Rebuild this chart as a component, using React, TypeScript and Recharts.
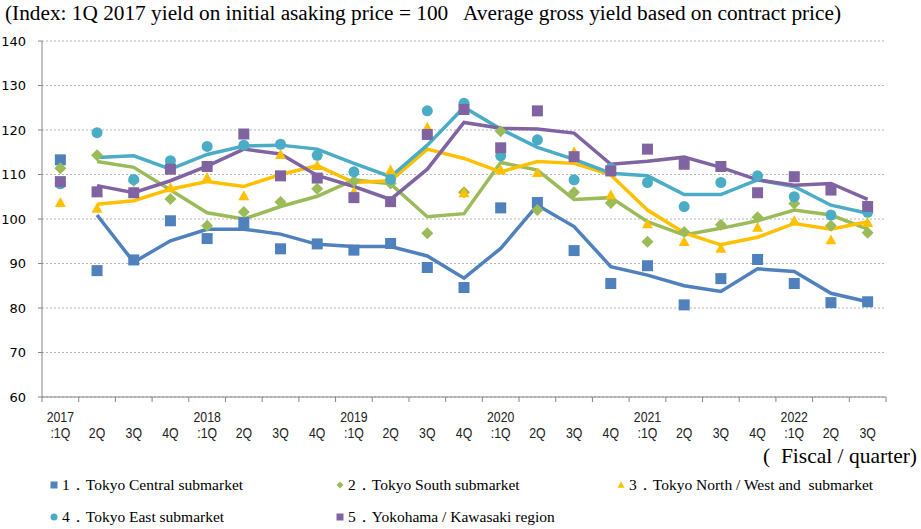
import { ComposedChart, Line, Scatter, XAxis, YAxis, CartesianGrid } from "recharts";

// tick labels, 2017 1Q .. 2022 3Q
const years = ["2017", "", "", "", "2018", "", "", "", "2019", "", "", "", "2020", "", "", "", "2021", "", "", "", "2022", "", ""];
const quarters = [":1Q", "2Q", "3Q", "4Q", ":1Q", "2Q", "3Q", "4Q", ":1Q", "2Q", "3Q", "4Q", ":1Q", "2Q", "3Q", "4Q", ":1Q", "2Q", "3Q", "4Q", ":1Q", "2Q", "3Q"];

// yield on initial asking price (markers)
const centralAsk = [113.3, 88.4, 90.8, 99.6, 95.6, 99.2, 93.3, 94.4, 93.0, 94.5, 89.1, 84.6, 102.5, 103.7, 92.9, 85.5, 89.5, 80.7, 86.6, 90.9, 85.5, 81.2, 81.4];
const southAsk = [111.4, 114.3, 108.6, 104.5, 98.5, 101.6, 103.8, 106.8, 108.5, 108.0, 96.8, 106.0, 119.7, 102.0, 106.0, 103.6, 94.9, 97.1, 98.7, 100.4, 103.5, 98.5, 96.9];
const northAsk = [103.7, 102.4, 106.0, 107.0, 109.3, 105.2, 114.5, 112.0, 106.1, 111.0, 120.6, 105.9, 111.0, 110.4, 115.1, 105.4, 98.9, 94.9, 93.4, 98.1, 99.6, 95.3, 99.2];
const eastAsk = [107.9, 119.4, 108.9, 113.1, 116.3, 116.6, 116.8, 114.3, 110.6, 108.9, 124.3, 126.0, 114.2, 117.8, 108.8, 111.4, 108.2, 102.8, 108.2, 109.7, 105.0, 100.9, 101.5];
const yokoAsk = [108.4, 106.1, 105.9, 111.2, 111.8, 119.1, 109.7, 109.2, 104.8, 103.9, 119.0, 124.6, 116.0, 124.3, 114.0, 110.8, 115.7, 112.3, 111.8, 105.9, 109.5, 106.5, 102.8];

// average gross yield based on contract price (lines)
const centralDeal = [null, 100.9, 90.3, 95.1, 97.7, 97.7, 96.6, 94.3, 93.8, 93.8, 91.7, 86.7, 93.4, 103.1, 98.3, 89.3, 87.4, 85.0, 83.7, 88.8, 88.2, 83.3, 81.4];
const southDeal = [null, 112.9, 111.6, 106.5, 101.4, 100.0, 102.8, 105.1, 108.8, 107.9, 100.5, 101.2, 112.7, 111.0, 104.4, 104.8, 99.4, 96.4, 97.9, 99.6, 102.0, 100.9, 97.7];
const northDeal = [null, 103.3, 104.1, 106.7, 108.4, 107.3, 110.0, 112.0, 108.2, 108.6, 115.7, 113.6, 110.6, 112.9, 112.5, 109.9, 102.0, 96.9, 94.2, 95.9, 99.0, 97.7, 99.4];
const eastDeal = [null, 113.8, 114.2, 111.2, 114.5, 116.4, 116.6, 115.7, 112.5, 109.5, 116.6, 125.1, 120.2, 116.1, 113.4, 110.3, 109.7, 105.5, 105.5, 108.8, 107.3, 103.1, 101.3];
const yokoDeal = [null, 107.5, 105.9, 108.6, 111.9, 115.7, 114.6, 109.8, 107.3, 104.4, 111.2, 121.7, 120.4, 120.2, 119.3, 112.3, 113.0, 113.9, 111.6, 108.8, 107.6, 108.0, 104.4];

const BLUE = "#4F81BD";
const GREEN = "#9BBB59";
const YELLOW = "#FFC000";
const CYAN = "#4BACC6";
const PURPLE = "#8064A2";
const AXIS = "#868686";
const SERIF = "'Liberation Serif', 'Times New Roman', serif";

const data = quarters.map((q, i) => ({
  x: i + 0.5,
  c1: centralAsk[i], c2: southAsk[i], c3: northAsk[i], c4: eastAsk[i], c5: yokoAsk[i],
  l1: centralDeal[i], l2: southDeal[i], l3: northDeal[i], l4: eastDeal[i], l5: yokoDeal[i],
}));

// boundary ticks (integers) draw the tick marks, half steps carry the labels
const xTicks: number[] = [];
for (let k = 0; k <= quarters.length * 2; k++) xTicks.push(k / 2);

type Kind = "square" | "diamond" | "triangle" | "circle";

function mark(kind: Kind, cx: number, cy: number, s: number, fill: string) {
  const h = s / 2;
  if (kind === "square") return <rect x={cx - h} y={cy - h} width={s} height={s} fill={fill} />;
  if (kind === "circle") return <circle cx={cx} cy={cy} r={h} fill={fill} />;
  if (kind === "diamond")
    return <polygon points={`${cx},${cy - h} ${cx + h},${cy} ${cx},${cy + h} ${cx - h},${cy}`} fill={fill} />;
  return <polygon points={`${cx},${cy - h} ${cx + h},${cy + h * 0.8} ${cx - h},${cy + h * 0.8}`} fill={fill} />;
}

const shapeOf = (kind: Kind, fill: string, s: number) => (p: any) =>
  p.cx == null || p.cy == null ? <g /> : mark(kind, p.cx, p.cy, s, fill);

const XTick = (p: any) => {
  const v = p.payload.value;
  if (Number.isInteger(v)) return <line x1={p.x} y1={p.y} x2={p.x} y2={p.y + 5} stroke={AXIS} />;
  const i = Math.floor(v);
  return (
    <g transform={`translate(${p.x},${p.y}) scale(0.82,1)`}>
      <text textAnchor="middle" y={25} fontSize={15} fontFamily="'Liberation Sans', Arial" fill="#222">
        {years[i]}
      </text>
      <text textAnchor="middle" y={41.5} fontSize={15} fontFamily="'Liberation Sans', Arial" fill="#222">
        {quarters[i]}
      </text>
    </g>
  );
};

const legend: { label: string; kind: Kind; color: string; x: number; y: number }[] = [
  { label: "1．Tokyo Central submarket", kind: "square", color: BLUE, x: 54, y: 485 },
  { label: "2．Tokyo South submarket", kind: "diamond", color: GREEN, x: 340, y: 485 },
  { label: "3．Tokyo North / West and  submarket", kind: "triangle", color: YELLOW, x: 621, y: 485 },
  { label: "4．Tokyo East submarket", kind: "circle", color: CYAN, x: 54, y: 517 },
  { label: "5．Yokohama / Kawasaki region", kind: "square", color: PURPLE, x: 340, y: 517 },
];

export default function App() {
  return (
    <div style={{ position: "absolute", left: 0, top: 0, width: 921, height: 529, background: "#fff" }}>
      <ComposedChart width={921} height={529} data={data} margin={{ top: 41, right: 35, left: 0, bottom: 102 }}>
        <CartesianGrid vertical={false} stroke="#b4b4b4" strokeDasharray="2 2" />
        <XAxis
          dataKey="x"
          type="number"
          domain={[0, quarters.length]}
          ticks={xTicks}
          interval={0}
          tickSize={0}
          tickMargin={0}
          tickLine={false}
          height={30}
          stroke={AXIS}
          tick={<XTick />}
        />
        <YAxis
          domain={[60, 140]}
          ticks={[60, 70, 80, 90, 100, 110, 120, 130, 140]}
          width={42}
          tickSize={4}
          tickMargin={12}
          stroke={AXIS}
          tick={{ fill: "#000", fontSize: 13, fontFamily: "'DejaVu Sans', Verdana" }}
        />
        <Scatter dataKey="c1" isAnimationActive={false} shape={shapeOf("square", BLUE, 11)} />
        <Scatter dataKey="c2" isAnimationActive={false} shape={shapeOf("diamond", GREEN, 12)} />
        <Scatter dataKey="c3" isAnimationActive={false} shape={shapeOf("triangle", YELLOW, 11)} />
        <Scatter dataKey="c4" isAnimationActive={false} shape={shapeOf("circle", CYAN, 11)} />
        <Scatter dataKey="c5" isAnimationActive={false} shape={shapeOf("square", PURPLE, 11)} />
        <Line dataKey="l1" stroke={BLUE} strokeWidth={3.5} dot={false} isAnimationActive={false} />
        <Line dataKey="l2" stroke={GREEN} strokeWidth={3.5} dot={false} isAnimationActive={false} />
        <Line dataKey="l3" stroke={YELLOW} strokeWidth={3.5} dot={false} isAnimationActive={false} />
        <Line dataKey="l4" stroke={CYAN} strokeWidth={3.5} dot={false} isAnimationActive={false} />
        <Line dataKey="l5" stroke={PURPLE} strokeWidth={3.5} dot={false} isAnimationActive={false} />
      </ComposedChart>
      <svg width={921} height={529} style={{ position: "absolute", left: 0, top: 0, pointerEvents: "none" }}>
        <text x={5} y={20} fontSize={21.3} fontFamily={SERIF} fill="#000" style={{ whiteSpace: "pre" }}>
          (Index: 1Q 2017 yield on initial asaking price = 100   Average gross yield based on contract price)
        </text>
        <text x={917} y={463} textAnchor="end" fontSize={21.5} fontFamily={SERIF} fill="#000" style={{ whiteSpace: "pre" }}>
          (  Fiscal / quarter)
        </text>
        {legend.map((it) => (
          <g key={it.label}>
            {mark(it.kind, it.x, it.y, 7, it.color)}
            <text x={it.x + 8} y={it.y + 5} fontSize={15.5} fontFamily={SERIF} fill="#000" style={{ whiteSpace: "pre" }}>
              {it.label}
            </text>
          </g>
        ))}
      </svg>
    </div>
  );
}
